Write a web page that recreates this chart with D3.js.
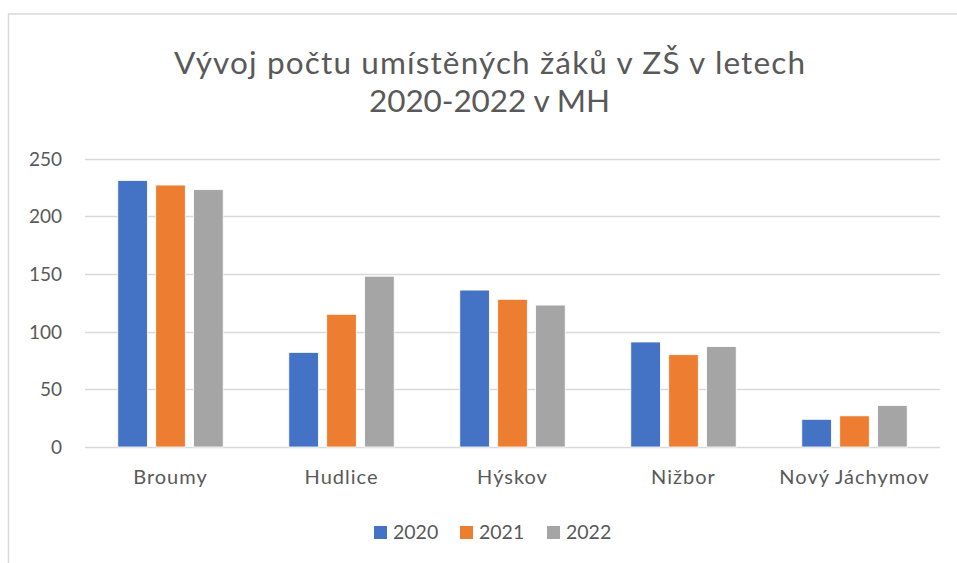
<!DOCTYPE html>
<html><head><meta charset="utf-8">
<script src="https://cdn.jsdelivr.net/npm/d3@7"></script>
<style>body{margin:0;background:#fff}svg{display:block}text{font-family:Lato,"Open Sans",sans-serif;fill:#595959}</style>
</head><body><svg id="c" width="957" height="563"></svg>
<script>
const categories = ["Broumy","Hudlice","Hýskov","Nižbor","Nový Jáchymov"];
const seriesNames = ["2020","2021","2022"];
const values2020 = [231, 82, 136, 91, 24];
const values2021 = [227, 115, 128, 80, 27];
const values2022 = [223, 148, 123, 87, 36];
const yTicks = [0,50,100,150,200,250];
const colors = ["#4472c4","#ed7d31","#a5a5a5"];
const titleLines = ["Vývoj počtu umístěných žáků v ZŠ v letech","2020-2022 v MH"];

const seriesValues = [values2020, values2021, values2022];
const svg = d3.select("#c");
// frame
svg.append("rect").attr("x",8.5).attr("y",14).attr("width",1000).attr("height",600)
  .attr("fill","none").attr("stroke","#d9d9d9").attr("stroke-width",1.5);

const x0 = d3.scaleBand().domain(categories).range([85,940]).padding(0);
const bw = x0.bandwidth();
const x1 = d3.scaleBand().domain(seriesNames).range([bw/2-52.7, bw/2+52.7]).paddingInner(0.22);
const y = d3.scaleLinear().domain([0,250]).range([447,158.5]);

// gridlines
svg.append("g").selectAll("line").data(yTicks).join("line")
  .attr("x1",85).attr("x2",940).attr("y1",d=>Math.round(y(d))+0.5).attr("y2",d=>Math.round(y(d))+0.5)
  .attr("stroke","#d9d9d9").attr("stroke-width",1.3);

// y labels
const yAxis = d3.axisLeft(y).tickValues(yTicks).tickSize(0).tickPadding(0);
const ya = svg.append("g").attr("transform","translate(62,0)").call(yAxis);
ya.select(".domain").remove();
ya.selectAll("text").style("font-size","19px").attr("fill","#595959").attr("dy","0.35em");

// bars
const data = [];
categories.forEach((c,i)=>seriesNames.forEach((s,j)=>data.push({c,s,v:seriesValues[j][i],j})));
svg.append("g").selectAll("rect").data(data).join("rect")
  .attr("x",d=>x0(d.c)+x1(d.s)).attr("width",x1.bandwidth())
  .attr("y",d=>y(d.v)).attr("height",d=>y(0)-y(d.v))
  .attr("fill",d=>colors[d.j]).attr("stroke","#fff").attr("stroke-width",0.8);

// x labels
const xAxis = d3.axisBottom(x0).tickSize(0).tickPadding(0);
const xa = svg.append("g").attr("transform","translate(0,470)").call(xAxis);
xa.select(".domain").remove();
xa.selectAll("text").style("font-size","20px").style("letter-spacing","1px").attr("fill","#595959").attr("dy","0.71em");

// title
const titleW = [631, 241];
svg.append("g").selectAll("text").data(titleLines).join("text")
  .attr("x",489.5).attr("y",(d,i)=>74+i*38).attr("text-anchor","middle")
  .attr("textLength",(d,i)=>titleW[i]).attr("lengthAdjust","spacing")
  .style("font-size","31.5px").text(d=>d);

// legend
const legX = [374,460,547];
const lg = svg.append("g").selectAll("g").data(seriesNames).join("g")
  .attr("transform",(d,i)=>`translate(${legX[i]},526)`);
lg.append("rect").attr("width",13).attr("height",13).attr("fill",(d,i)=>colors[i]);
lg.append("text").attr("x",19).attr("y",13).style("font-size","19.5px").text(d=>d);
</script></body></html>
